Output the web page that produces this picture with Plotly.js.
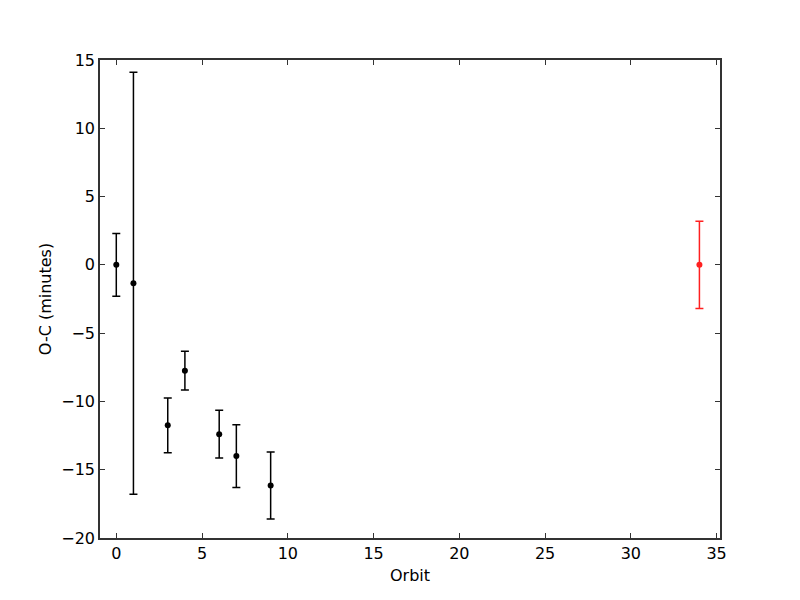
<!DOCTYPE html>
<html>
<head>
<meta charset="utf-8">
<script src="https://cdn.plot.ly/plotly-3.0.1.min.js"></script>
<style>
  body { margin: 0; background: #fff; }
  #grafica { width: 800px; height: 600px; }
</style>
</head>
<body>
<div id="grafica"></div>
<script>
// orbitas observadas
const orbitas = [0, 1, 3, 4, 6, 7, 9];
const oc = [0, -1.35, -11.75, -7.75, -12.4, -14.0, -16.15];
const errores = [2.3, 15.45, 2.0, 1.42, 1.75, 2.3, 2.45];

// punto predicho (rojo)
const orbitaPred = [34];
const ocPred = [0];
const errorPred = [3.2];

const fuente = { family: 'DejaVu Sans', size: 16, color: '#000' };

const tracePuntos = {
    x: orbitas, y: oc,
    mode: 'markers', type: 'scatter',
    marker: { size: 6, color: 'black' },
    error_y: { type: 'data', array: errores, visible: true, color: 'black', thickness: 1.5, width: 4 },
    showlegend: false
};

const tracePred = {
    x: orbitaPred, y: ocPred,
    mode: 'markers', type: 'scatter',
    marker: { size: 6, color: '#ff2020' },
    error_y: { type: 'data', array: errorPred, visible: true, color: '#ff2020', thickness: 1.5, width: 4 },
    showlegend: false
};

const ejeComun = {
    showgrid: false, zeroline: false,
    showline: true, linecolor: '#333', linewidth: 1.5,
    mirror: 'ticks', ticks: 'inside', ticklen: 5, tickcolor: '#333',
    tickfont: fuente
};

const layout = {
    width: 800, height: 600,
    margin: { l: 100, r: 80, t: 60, b: 62 },
    paper_bgcolor: '#fff', plot_bgcolor: '#fff',
    font: fuente,
    xaxis: Object.assign({}, ejeComun, {
        range: [-0.95, 35.2], tickvals: [0, 5, 10, 15, 20, 25, 30, 35],
        title: { text: 'Orbit', font: fuente, standoff: 8 }
    }),
    yaxis: Object.assign({}, ejeComun, {
        range: [-20, 15], tickvals: [-20, -15, -10, -5, 0, 5, 10, 15],
        title: { text: 'O-C (minutes)', font: fuente, standoff: 6 }
    })
};

Plotly.newPlot('grafica', [tracePuntos, tracePred], layout, { displayModeBar: false });
</script>
</body>
</html>
